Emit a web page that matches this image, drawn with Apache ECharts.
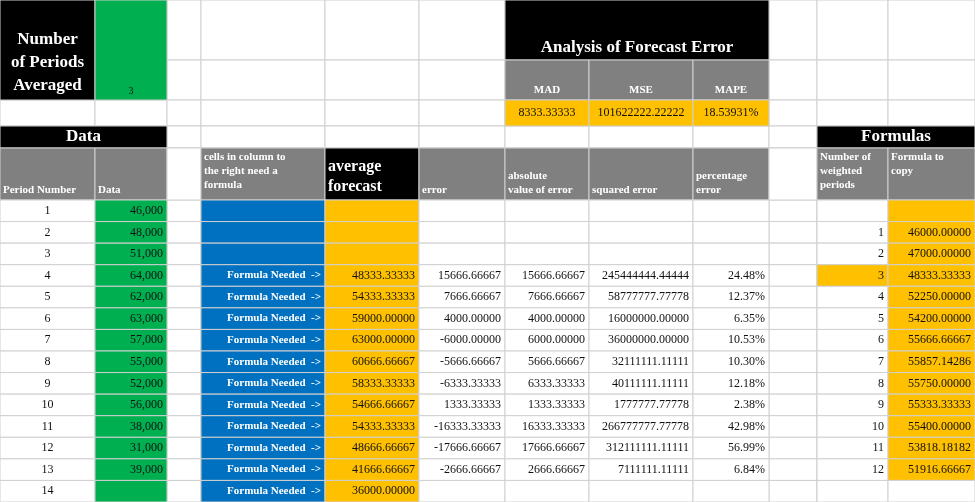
<!DOCTYPE html><html><head><meta charset="utf-8">
<script src="https://cdn.jsdelivr.net/npm/echarts@6/dist/echarts.min.js"></script>
<style>html,body{margin:0;padding:0;background:#fff}#c{width:975px;height:502px}</style></head><body><div id="c"></div>
<script>
const periods=[1,2,3,4,5,6,7,8,9,10,11,12,13,14];
const dataVals=['46,000','48,000','51,000','64,000','62,000','63,000','57,000','55,000','52,000','56,000','38,000','31,000','39,000',''];
const forecast=['','','','48333.33333','54333.33333','59000.00000','63000.00000','60666.66667','58333.33333','54666.66667','54333.33333','48666.66667','41666.66667','36000.00000'];
const errors=['','','','15666.66667','7666.66667','4000.00000','-6000.00000','-5666.66667','-6333.33333','1333.33333','-16333.33333','-17666.66667','-2666.66667',''];
const absErr=['','','','15666.66667','7666.66667','4000.00000','6000.00000','5666.66667','6333.33333','1333.33333','16333.33333','17666.66667','2666.66667',''];
const sqErr=['','','','245444444.44444','58777777.77778','16000000.00000','36000000.00000','32111111.11111','40111111.11111','1777777.77778','266777777.77778','312111111.11111','7111111.11111',''];
const pctErr=['','','','24.48%','12.37%','6.35%','10.53%','10.30%','12.18%','2.38%','42.98%','56.99%','6.84%',''];
const weighted=['','1','2','3','4','5','6','7','8','9','10','11','12',''];
const formulaVals=['','46000.00000','47000.00000','48333.33333','52250.00000','54200.00000','55666.66667','55857.14286','55750.00000','55333.33333','55400.00000','53818.18182','51916.66667',''];
const summaryLabels=['MAD','MSE','MAPE'];
const summaryVals=['8333.33333','101622222.22222','18.53931%'];
const periodsAveraged='3';

const colE=[0,95,167,201,325,419,505,589,693,769,817,888,975];
const rowE=[0,60,100,126,148,200];for(let i=1;i<=14;i++)rowE.push(200+i*302/14);
const G='#00b050',O='#ffc000',B='#0070c0',GR='#808080',K='#000',W='#fff';
const SER='"Liberation Serif","DejaVu Serif",serif';
const cells=[];
function cell(c0,c1,r0,r1,fill,text,o){cells.push(Object.assign({c0,c1,r0,r1,fill,text:text||'',color:'#111',size:12,bold:false,align:'right',valign:'middle'},o||{}));}
// base grid
for(let r=0;r<rowE.length-1;r++)for(let c=0;c<12;c++)cell(c,c,r,r,W,'');
const hb={color:W,bold:true};
cell(0,0,0,1,K,'Number\nof Periods\nAveraged',Object.assign({size:17,align:'center',valign:'bottom',lh:23},hb));
cell(1,1,0,1,G,periodsAveraged,{size:10,align:'center',valign:'bottom'});
cell(6,8,0,0,K,'Analysis of Forecast Error',Object.assign({size:17,align:'center',valign:'bottom'},hb));
for(let i=0;i<3;i++){cell(6+i,6+i,1,1,GR,summaryLabels[i],Object.assign({size:11,align:'center',valign:'bottom'},hb));
 cell(6+i,6+i,2,2,O,summaryVals[i],{align:'center',size:12});}
cell(0,1,3,3,K,'Data',Object.assign({size:17,align:'center'},hb));
cell(10,11,3,3,K,'Formulas',Object.assign({size:17,align:'center'},hb));
const h5=(c,t,f,va,extra)=>cell(c,c,4,4,f||GR,t,Object.assign({size:11,align:'left',valign:va||'bottom',lh:14},hb,extra||{}));
h5(0,'Period Number');h5(1,'Data');h5(2,'',W);h5(3,'cells in column to\nthe right need a\nformula',null,'top');
h5(4,'average\nforecast',K,'bottom',{size:16,lh:20});h5(5,'error');h5(6,'absolute\nvalue of error');h5(7,'squared error');h5(8,'percentage\nerror');
h5(9,'',W);h5(10,'Number of\nweighted\nperiods',null,'top');h5(11,'Formula to\ncopy',null,'top');
for(let i=0;i<periods.length;i++){const r=5+i;
 cell(0,0,r,r,W,String(periods[i]),{align:'center'});
 cell(1,1,r,r,G,dataVals[i]);
 cell(3,3,r,r,B,i>=3?'Formula Needed  ->':'',{color:W,bold:true,size:11});
 cell(4,4,r,r,O,forecast[i]);
 cell(5,5,r,r,W,errors[i]);cell(6,6,r,r,W,absErr[i]);cell(7,7,r,r,W,sqErr[i]);cell(8,8,r,r,W,pctErr[i]);
 cell(10,10,r,r,weighted[i]==='3'?O:W,weighted[i]);
 cell(11,11,r,r,i<13?O:W,formulaVals[i]);
}
const chart=echarts.init(document.getElementById('c'));
chart.setOption({animation:false,
 grid:{left:0,right:0,top:0,bottom:0},
 xAxis:{type:'value',min:0,max:975,show:false},
 yAxis:{type:'value',min:0,max:502,inverse:true,show:false},
 series:[{type:'custom',clip:true,data:cells.map((c,i)=>[colE[c.c0],rowE[c.r0],colE[c.c1+1],rowE[c.r1+1],i]),
  renderItem:(p,api)=>{const c=cells[api.value(4)];
   const a=api.coord([api.value(0),api.value(1)]),b=api.coord([api.value(2),api.value(3)]);
   const x=a[0],y=a[1],w=b[0]-a[0],h=b[1]-a[1];
   const ch=[{type:'rect',shape:{x,y,width:w,height:h},style:{fill:c.fill,stroke:'#d0d0d0',lineWidth:1}}];
   if(c.text){let tx=c.align==='left'?x+3:c.align==='right'?x+w-4:x+w/2;
    let ty=c.valign==='top'?y+2:c.valign==='bottom'?y+h-3:y+h/2;
    ch.push({type:'text',style:{text:c.text,x:tx,y:ty,fill:c.color,align:c.align,verticalAlign:c.valign,
     font:(c.bold?'bold ':'')+c.size+'px '+SER,lineHeight:c.lh||c.size+2}});}
   return {type:'group',children:ch};}}]});
</script></body></html>
